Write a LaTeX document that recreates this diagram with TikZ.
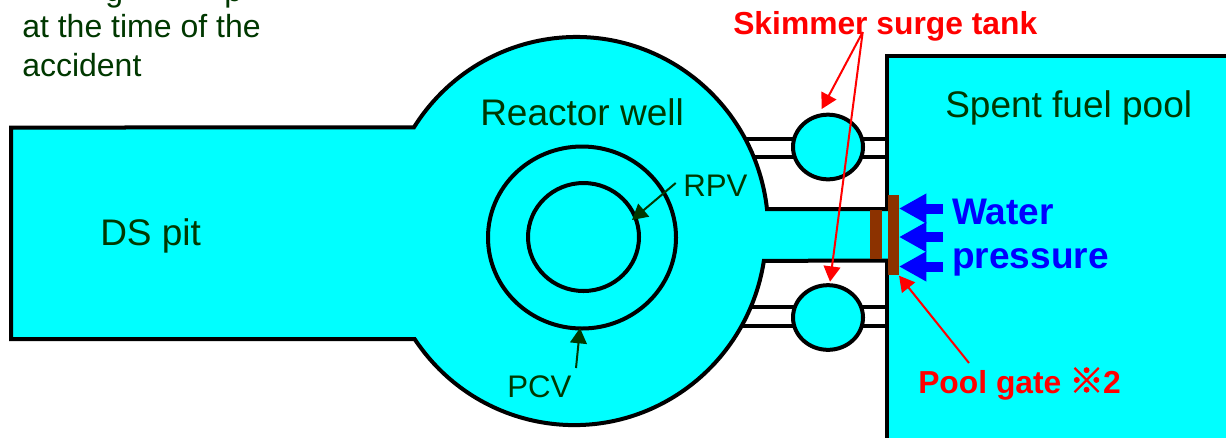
\documentclass[tikz,border=0pt]{standalone}
\usepackage{fontspec}
\setmainfont{Liberation Sans}
\newfontfamily\cjkmark[FakeBold=2,Scale=1.08]{Noto Sans CJK JP Bold}
\usetikzlibrary{arrows.meta,shapes.geometric}
\definecolor{water}{RGB}{0,255,255}
\definecolor{darkgreen}{RGB}{0,56,0}
\definecolor{gatebrown}{RGB}{140,50,0}
\tikzset{
  x=0.75pt,y=0.75pt,
  wall/.style={draw=black,line width=3pt,line join=miter},
  thinwall/.style={draw=black,line width=2.6pt},
  label/.style={anchor=base west,inner sep=0pt,text=darkgreen,font=\fontsize{27.75}{30}\selectfont},
  smalllabel/.style={label,font=\fontsize{24}{28}\selectfont},
  vessellabel/.style={label,font=\fontsize{23.4}{28}\selectfont},
  tag/.style={anchor=base west,inner sep=0pt,text=red,font=\fontsize{23.85}{28}\selectfont\bfseries},
  bluetag/.style={anchor=base west,inner sep=0pt,text=blue,font=\fontsize{27.75}{30}\selectfont\bfseries},
  redarrow/.style={draw=red,line width=1.5pt,-{Triangle[length=11.5pt,width=12.5pt,fill=red]}},
  greenarrow/.style={draw=darkgreen,line width=1.5pt,-{Triangle[length=11.5pt,width=12.5pt,fill=darkgreen]}},
  pressurearrow/.style={draw=blue,line width=7.5pt,-{Triangle[length=20.5pt,width=21pt,fill=blue]}},
  tank/.style={ellipse,draw=black,line width=3pt,fill=water,minimum width=52.5pt,minimum height=48.5pt,inner sep=0pt},
  ring/.style={draw=black,line width=3pt},
  gate/.style={fill=gatebrown,draw=none},
}
\begin{document}
\begin{tikzpicture}
\useasboundingbox (0,0) rectangle (1226,-437);
\fill[white] (0,0) rectangle (1226,-437);
% clipped first line of the text block
\node[smalllabel] (clipg) at (105,-1) {g};
\node[smalllabel] (clipp) at (224,-1) {p};
\node[smalllabel] (line2) at (22,-37) {at the time of the};
\node[smalllabel] (line3) at (22,-76) {accident};
% pipes behind the tanks
\coordinate (pa1) at (735,-139); \coordinate (pb1) at (887,-139);
\coordinate (pa2) at (735,-157); \coordinate (pb2) at (887,-157);
\coordinate (pa3) at (735,-307); \coordinate (pb3) at (887,-307);
\coordinate (pa4) at (735,-326); \coordinate (pb4) at (887,-326);
\draw[thinwall] (pa1) -- (pb1);
\draw[thinwall] (pa2) -- (pb2);
\draw[thinwall] (pa3) -- (pb3);
\draw[thinwall] (pa4) -- (pb4);
% spent fuel pool
\draw[wall,fill=water] (887,-56) rectangle (1240,-450);
% well, pit and channel
\draw[wall,fill=water] (889,-209) -- (767,-209)
  arc[start angle=6.5,end angle=147.76,x radius=192,y radius=194]
  -- (11,-127.5) -- (11,-339) -- (414.6,-339)
  arc[start angle=213.8,end angle=351.2,x radius=192,y radius=194]
  -- (889,-260.7);
% vessels
\draw[ring] (582,-237.5) ellipse [x radius=94,y radius=91];
\draw[ring] (583.5,-237) ellipse [x radius=55.5,y radius=54];
% tanks
\node[tank] (tankA) at (828,-147) {};
\node[tank] (tankB) at (828,-317.5) {};
% gates
\fill[gate] (870,-210) rectangle (882,-259);
\fill[gate] (888,-195) rectangle (899,-275);
% pressure arrows
\coordinate (wa) at (943,-208.5); \coordinate (wat) at (899,-208.5);
\coordinate (wb) at (943,-237);   \coordinate (wbt) at (899,-237);
\coordinate (wc) at (943,-266.5); \coordinate (wct) at (899,-266.5);
\draw[pressurearrow] (wa) -- (wat);
\draw[pressurearrow] (wb) -- (wbt);
\draw[pressurearrow] (wc) -- (wct);
% labels
\node[label] (reactor) at (480,-125) {Reactor well};
\node[label] (spent) at (945,-117) {Spent fuel pool};
\node[label] (ds) at (100,-245) {DS pit};
\node[vessellabel] (rpv) at (683,-196) {RPV};
\node[vessellabel] (pcv) at (507,-397) {PCV};
\node[tag] (skim) at (733,-34) {Skimmer surge tank};
\node[bluetag] (w1) at (952,-224) {Water};
\node[bluetag] (w2) at (952,-268) {pressure};
\node[tag] (pg) at (918,-393) {Pool gate\kern6pt{\cjkmark ※}\kern-0.5pt 2};
% leader lines
\coordinate (s0) at (862.7,-32);
\coordinate (s1) at (821.7,-109);
\coordinate (s2) at (830,-281.7);
\coordinate (g0) at (969,-363);
\coordinate (g1) at (899,-275.7);
\coordinate (r0) at (675.7,-183);
\coordinate (r1) at (632,-220);
\coordinate (c0) at (576,-368);
\coordinate (c1) at (580,-328);
\draw[redarrow] (s0) -- (s1);
\draw[redarrow] (s0) -- (s2);
\draw[redarrow] (g0) -- (g1);
\draw[greenarrow] (r0) -- (r1);
\draw[greenarrow] (c0) -- (c1);
\end{tikzpicture}
\end{document}
